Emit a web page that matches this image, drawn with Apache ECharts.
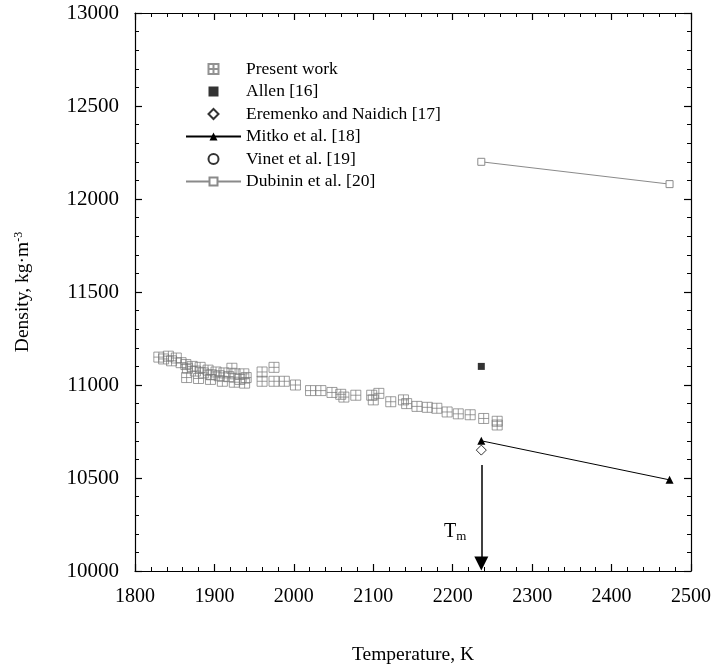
<!DOCTYPE html>
<html>
<head>
<meta charset="utf-8">
<script src="https://cdn.jsdelivr.net/npm/echarts@6/dist/echarts.min.js"></script>
<style>
  html, body { margin: 0; padding: 0; background: #fff; }
  #chart { width: 717px; height: 670px; }
</style>
</head>
<body>
<div id="chart"></div>
<script>
// data (temperature K, density kg/m3)
var presentT = [1830, 1836, 1842, 1846, 1852, 1858, 1864, 1866, 1872, 1876, 1882, 1886, 1892, 1896,
    1902, 1906, 1912, 1918, 1922, 1926, 1932, 1937, 1940, 1865, 1880, 1895, 1910, 1925, 1938,
    1960, 1960, 1975, 1975, 1988, 2002, 2021, 2034, 2048, 2059, 2063, 2078, 2098, 2100, 2107,
    2122, 2138, 2142, 2155, 2168, 2180, 2193, 2207, 2222, 2239, 2256, 2256];
var presentRho = [11150, 11140, 11155, 11130, 11145, 11120, 11110, 11090, 11100, 11075, 11095, 11065, 11080, 11055,
    11070, 11050, 11065, 11045, 11090, 11060, 11030, 11060, 11040, 11040, 11035, 11030, 11020, 11015, 11010,
    11070, 11020, 11095, 11020, 11020, 11000, 10970, 10970, 10960, 10950, 10935, 10945, 10945, 10920, 10955,
    10910, 10920, 10900, 10885, 10880, 10875, 10855, 10845, 10840, 10820, 10805, 10785];

var allen = [[2236, 11100]];
var eremenko = [[2236, 10650]];
var mitkoT = [2236, 2473];
var mitkoRho = [10700, 10490];
var vinet = [];
var dubininT = [2236, 2473];
var dubininRho = [12200, 12080];

var TM = 2236;
var xTicks = [1800, 1900, 2000, 2100, 2200, 2300, 2400, 2500];
var yTicks = [10000, 10500, 11000, 11500, 12000, 12500, 13000];

var serif = 'Liberation Serif';

function zip(a, b) {
    return a.map(function(v, i) { return [v, b[i]]; });
}

var chart = echarts.init(document.getElementById('chart'));

function baseAxis(extra) {
    var ax = {
        type: 'value',
        axisLine: { show: true, onZero: false, lineStyle: { color: '#000', width: 1.2 } },
        axisTick: { show: true, inside: true, length: 7, lineStyle: { color: '#000', width: 1.2 } },
        minorTick: { show: true, splitNumber: 5, length: 4, lineStyle: { color: '#000', width: 1 } },
        splitLine: { show: false },
        axisLabel: { color: '#000', fontFamily: serif, fontSize: 20 }
    };
    for (var k in extra) ax[k] = extra[k];
    return ax;
}

function plain(v) { return String(v); }

var boxCross = 'path://M0 0H10V10H0Z M5 0V10 M0 5H10';
var square = 'path://M0 0H10V10H0Z';
var diamond = 'path://M5 0L10 5L5 10L0 5Z';

var option = {
    animation: false,
    backgroundColor: '#fff',
    grid: { left: 135, right: 26, top: 13, bottom: 97 },
    legend: {
        orient: 'vertical',
        left: 185,
        top: 60,
        padding: 0,
        itemWidth: 55,
        itemHeight: 10,
        itemGap: 4.5,
        textStyle: { fontFamily: serif, fontSize: 17.5, color: '#000' },
        data: ['Present work', 'Allen [16]', 'Eremenko and Naidich [17]', 'Mitko et al. [18]', 'Vinet et al. [19]', 'Dubinin et al. [20]']
    },
    xAxis: [
        baseAxis({
            min: xTicks[0], max: xTicks[xTicks.length - 1], interval: 100, position: 'bottom',
            name: 'Temperature, K', nameLocation: 'middle', nameGap: 74,
            nameTextStyle: { fontFamily: serif, fontSize: 19.5, color: '#000' },
            axisLabel: { color: '#000', fontFamily: serif, fontSize: 20, margin: 16, formatter: plain }
        }),
        baseAxis({
            min: xTicks[0], max: xTicks[xTicks.length - 1], interval: 100, position: 'top',
            axisLabel: { show: false }
        })
    ],
    yAxis: [
        baseAxis({
            min: yTicks[0], max: yTicks[yTicks.length - 1], interval: 500, position: 'left',
            name: 'Density, kg·m{sup|-3}', nameLocation: 'middle', nameGap: 102,
            nameTextStyle: {
                fontFamily: serif, fontSize: 19.5, color: '#000',
                rich: { sup: { fontFamily: serif, fontSize: 12, verticalAlign: 'top', padding: [0, 0, 8, 0] } }
            },
            axisLabel: { color: '#000', fontFamily: serif, fontSize: 21, margin: 16, formatter: plain }
        }),
        baseAxis({
            min: yTicks[0], max: yTicks[yTicks.length - 1], interval: 500, position: 'right',
            axisLabel: { show: false }
        })
    ],
    series: [
        {
            name: 'Dubinin et al. [20]',
            type: 'line',
            data: zip(dubininT, dubininRho),
            symbol: square,
            symbolSize: 7,
            showAllSymbol: true,
            lineStyle: { color: '#8a8a8a', width: 1 },
            itemStyle: { color: '#fff', borderColor: '#8a8a8a', borderWidth: 1 }
        },
        {
            name: 'Mitko et al. [18]',
            type: 'line',
            data: zip(mitkoT, mitkoRho),
            symbol: 'triangle',
            symbolSize: 8,
            lineStyle: { color: '#000', width: 1 },
            itemStyle: { color: '#000' }
        },
        {
            name: 'Present work',
            type: 'scatter',
            data: zip(presentT, presentRho),
            symbol: boxCross,
            symbolSize: 10,
            itemStyle: { color: 'rgba(0,0,0,0)', borderColor: '#777', borderWidth: 0.9 }
        },
        {
            name: 'Allen [16]',
            type: 'scatter',
            data: allen,
            symbol: square,
            symbolSize: 7,
            itemStyle: { color: '#000' }
        },
        {
            name: 'Eremenko and Naidich [17]',
            type: 'scatter',
            data: eremenko,
            symbol: diamond,
            symbolSize: 10,
            itemStyle: { color: '#fff', borderColor: '#000', borderWidth: 1 },
            // melting temperature arrow and label
            markLine: {
                silent: true,
                symbol: ['none', 'triangle'],
                symbolSize: 14,
                lineStyle: { color: '#000', width: 1.5, type: 'solid' },
                label: { show: false },
                data: [[{ coord: [TM, 10570] }, { coord: [TM, 10040] }]]
            },
            markPoint: {
                silent: true,
                symbol: 'circle',
                symbolSize: 0,
                label: {
                    show: true,
                    position: 'left',
                    distance: 15,
                    formatter: '{t|T}{s|m}',
                    rich: {
                        t: { fontFamily: serif, fontSize: 20, color: '#000' },
                        s: { fontFamily: serif, fontSize: 13, color: '#000', verticalAlign: 'bottom', padding: [10, 0, 0, 0] }
                    }
                },
                data: [{ coord: [TM, 10210] }]
            }
        },
        {
            name: 'Vinet et al. [19]',
            type: 'scatter',
            data: vinet,
            symbol: 'circle',
            symbolSize: 9,
            itemStyle: { color: '#fff', borderColor: '#000', borderWidth: 1 }
        }
    ]
};

chart.setOption(option);
</script>
</body>
</html>
